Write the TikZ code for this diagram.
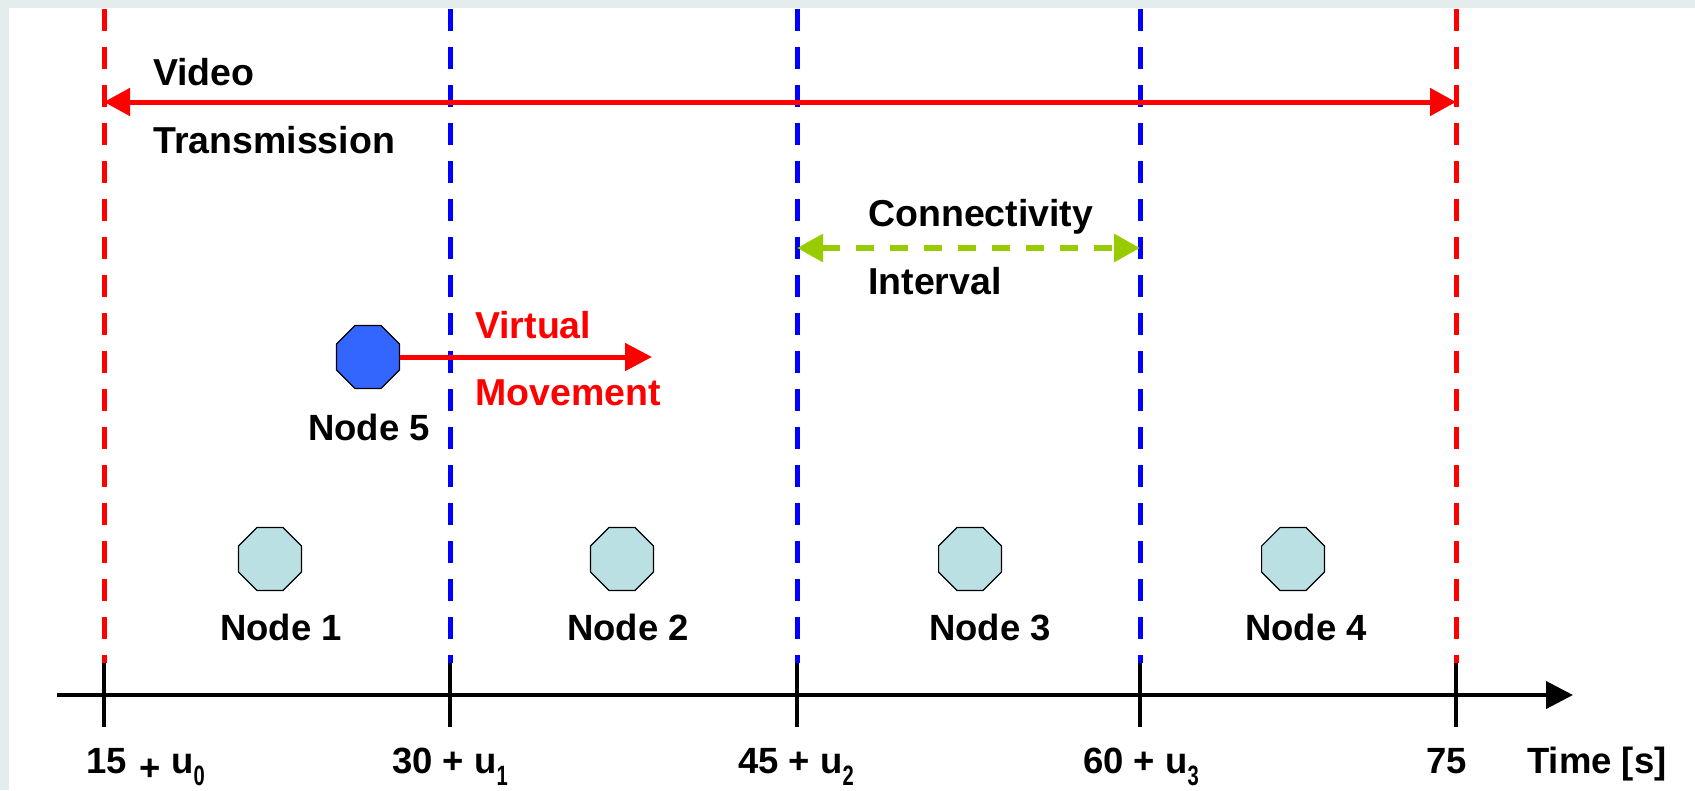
\documentclass[tikz,border=0pt]{standalone}
\usepackage{fontspec}
\setmainfont{Liberation Sans}
\usetikzlibrary{arrows.meta,shapes.geometric}

\definecolor{framebg}{HTML}{E4ECEE}
\definecolor{vidred}{HTML}{FF0000}
\definecolor{slotblue}{HTML}{0000FF}
\definecolor{conngreen}{HTML}{99CC00}
\definecolor{nodefill}{HTML}{BBE0E3}
\definecolor{movefill}{HTML}{3366FF}

% lowered, slightly condensed index digit
\newcommand\tsub[1]{\raisebox{-12pt}{\fontsize{28}{28}\selectfont\scalebox{0.72}[1]{#1}}}

\begin{document}
\begin{tikzpicture}[x=1pt,y=-1pt,
  lbl/.style={font=\fontsize{36.5}{40}\selectfont\bfseries, inner sep=0pt},
  lblbig/.style={font=\fontsize{37.5}{40}\selectfont\bfseries, inner sep=0pt},
  octa/.style={regular polygon, regular polygon sides=8, minimum size=68pt,
               inner sep=0pt, draw=black, line width=1.2pt},
  boundary/.style={line width=5pt, dash pattern=on 22pt off 16pt},
  timeaxis/.style={line width=4pt, black, -{Triangle[length=27pt,width=27pt]}},
  tickmark/.style={line width=4pt, black},
  span/.style={line width=5pt, vidred, {Triangle[length=26pt,width=27pt]}-{Triangle[length=26pt,width=27pt]}},
  connspan/.style={line width=6pt, conngreen, dash pattern=on 18pt off 16pt,
                   {Triangle[length=26pt,width=27pt]}-{Triangle[length=26pt,width=27pt]}},
  moveline/.style={line width=5pt, vidred, -{Triangle[length=27pt,width=27pt]}}
]
\useasboundingbox (0,0) rectangle (1695,790);

% frame and page
\fill[framebg] (0,0) rectangle (1695,790);
\fill[white] (9,8) rectangle (1695,790);

% time marks on the axis
\coordinate (m1) at (104,695);
\coordinate (m2) at (450,695);
\coordinate (m3) at (797,695);
\coordinate (m4) at (1140,695);
\coordinate (m5) at (1456,695);
\coordinate (top) at (0,9);
\coordinate (low) at (0,663);

% slot boundaries
\draw[boundary, vidred]   (m1 |- top) -- (m1 |- low);
\draw[boundary, slotblue] (m2 |- top) -- (m2 |- low);
\draw[boundary, slotblue] (m3 |- top) -- (m3 |- low);
\draw[boundary, slotblue] (m4 |- top) -- (m4 |- low);
\draw[boundary, vidred]   (m5 |- top) -- (m5 |- low);

% time axis with ticks
\coordinate (axstart) at (57,695);
\coordinate (axend) at (1573,695);
\draw[timeaxis] (axstart) -- (axend);
\foreach \m in {m1,m2,m3,m4,m5}
  \draw[tickmark] (\m) ++(0,-32) -- ++(0,64);

% axis labels
\node[lbl, anchor=base west] (l1) at (86,773) {15\hspace{13pt}\raisebox{-7pt}{+} u\tsub{0}};
\node[lbl, anchor=base west] (l2) at (392,773) {30 + u\tsub{1}};
\node[lbl, anchor=base west] (l3) at (738,773) {45 + u\tsub{2}};
\node[lbl, anchor=base west] (l4) at (1083,773) {60 + u\tsub{3}};
\node[lbl, anchor=base west] (l5) at (1426,773) {75};
\node[lbl, anchor=base west] (taxis) at (1527,773) {Time [s]};

% video transmission span
\coordinate (vidL) at (104,102);
\coordinate (vidR) at (1456,102);
\draw[span] (vidL) -- (vidR);
\node[lblbig, anchor=base west] (vidA) at (153,85) {Video};
\node[lblbig, anchor=base west] (vidB) at (153,153) {Transmission};

% connectivity interval
\coordinate (ciL) at (797,248);
\coordinate (ciR) at (1140,248);
\draw[connspan] (ciL) -- (ciR);
\node[lblbig, anchor=base west] (ciA) at (868,226) {Connectivity};
\node[lblbig, anchor=base west] (ciB) at (868,294) {Interval};

% fixed nodes
\node[octa, fill=nodefill] (n1) at (270,559) {};
\node[octa, fill=nodefill] (n2) at (622,559) {};
\node[octa, fill=nodefill] (n3) at (970,559) {};
\node[octa, fill=nodefill] (n4) at (1293,559) {};
\node[lbl, anchor=base] (t1) at (281,640) {Node 1};
\node[lbl, anchor=base] (t2) at (628,640) {Node 2};
\node[lbl, anchor=base] (t3) at (990,640) {Node 3};
\node[lbl, anchor=base] (t4) at (1306,640) {Node 4};

% moving node
\node[octa, fill=movefill] (n5) at (368,357) {};
\node[lbl, anchor=base] (t5) at (369,440) {Node 5};
\coordinate (vmEnd) at (652,357);
\draw[moveline] (n5.east) -- (vmEnd);
\node[lblbig, anchor=base west, text=vidred] (vmA) at (475,338) {Virtual};
\node[lblbig, anchor=base west, text=vidred] (vmB) at (475,405) {Movement};
\end{tikzpicture}
\end{document}
